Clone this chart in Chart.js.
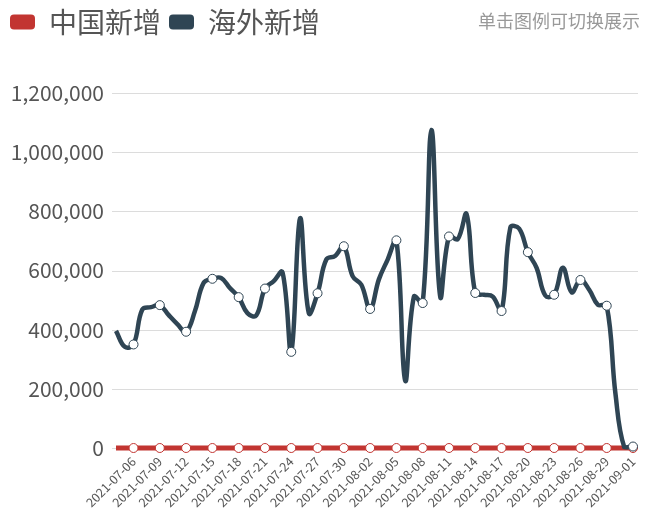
<!DOCTYPE html>
<html>
<head>
<meta charset="utf-8">
<script src="https://cdn.jsdelivr.net/npm/chart.js@4"></script>
<style>
  html, body { margin: 0; padding: 0; background: #fff; }
  #wrap { width: 650px; height: 512px; }
</style>
</head>
<body>
<div id="wrap"><canvas id="chart" width="650" height="512"></canvas></div>
<script>
const dates = [
  "2021-07-04", "2021-07-05", "2021-07-06", "2021-07-07", "2021-07-08", "2021-07-09",
  "2021-07-10", "2021-07-11", "2021-07-12", "2021-07-13", "2021-07-14", "2021-07-15",
  "2021-07-16", "2021-07-17", "2021-07-18", "2021-07-19", "2021-07-20", "2021-07-21",
  "2021-07-22", "2021-07-23", "2021-07-24", "2021-07-25", "2021-07-26", "2021-07-27",
  "2021-07-28", "2021-07-29", "2021-07-30", "2021-07-31", "2021-08-01", "2021-08-02",
  "2021-08-03", "2021-08-04", "2021-08-05", "2021-08-06", "2021-08-07", "2021-08-08",
  "2021-08-09", "2021-08-10", "2021-08-11", "2021-08-12", "2021-08-13", "2021-08-14",
  "2021-08-15", "2021-08-16", "2021-08-17", "2021-08-18", "2021-08-19", "2021-08-20",
  "2021-08-21", "2021-08-22", "2021-08-23", "2021-08-24", "2021-08-25", "2021-08-26",
  "2021-08-27", "2021-08-28", "2021-08-29", "2021-08-30", "2021-08-31", "2021-09-01",
];

// 中国新增 - flat on zero at this scale
const chinaNew = [
  0, 0, 0, 0, 0, 0, 0, 0, 0, 0, 0, 0, 0, 0, 0, 0, 0, 0, 0, 0,
  0, 0, 0, 0, 0, 0, 0, 0, 0, 0, 0, 0, 0, 0, 0, 0, 0, 0, 0, 0,
  0, 0, 0, 0, 0, 0, 0, 0, 0, 0, 0, 0, 0, 0, 0, 0, 0, 0, 0, 0,
];

// 海外新增
const abroadNew = [
  396000, 342000, 350000, 468000, 476000, 483000, 450000, 419000, 393000, 462000,
  558000, 572000, 575000, 541000, 510000, 456000, 448000, 539000, 564000, 594000,
  325000, 776000, 456000, 523000, 637000, 649000, 682000, 581000, 552000, 470000,
  570000, 637000, 702000, 228000, 512000, 490000, 1075000, 512000, 715000, 706000,
  791000, 524000, 518000, 512000, 463000, 745000, 742000, 662000, 609000, 515000,
  518000, 609000, 526000, 568000, 535000, 484000, 481000, 183000, 3000, 5000,
];

const yTicks = [0, 200000, 400000, 600000, 800000, 1000000, 1200000];

const FONT = "'Noto Sans CJK SC', 'Noto Sans', sans-serif";
const shown = (i) => (i - 2) % 3 === 0;
const markerRadius = dates.map((d, i) => (shown(i) ? 4.5 : 0));

const hintText = {
  id: "hintText",
  afterDraw(chart) {
    const ctx = chart.ctx;
    ctx.save();
    ctx.font = "18px " + FONT;
    ctx.fillStyle = "#999";
    ctx.textAlign = "right";
    ctx.textBaseline = "middle";
    ctx.fillText("单击图例可切换展示", 640, 21);
    ctx.restore();
  },
};

// horizontal grid lines a little wider than the plot area
const wideGrid = {
  id: "wideGrid",
  beforeDatasetsDraw(chart) {
    const { ctx, chartArea, scales } = chart;
    ctx.save();
    ctx.strokeStyle = "#dcdcdc";
    ctx.lineWidth = 1;
    yTicks.forEach((v) => {
      const y = Math.round(scales.y.getPixelForValue(v)) + 0.5;
      ctx.beginPath();
      ctx.moveTo(chartArea.left - 4, y);
      ctx.lineTo(chartArea.right + 5, y);
      ctx.stroke();
    });
    ctx.restore();
  },
};

const legendGap = {
  id: "legendGap",
  beforeInit(chart) {
    const fit = chart.legend.fit;
    chart.legend.fit = function () {
      fit.bind(chart.legend)();
      this.height += 47;
    };
  },
};

const ctx = document.getElementById("chart").getContext("2d");
new Chart(ctx, {
  type: "line",
  data: {
    labels: dates,
    datasets: [
      {
        label: "中国新增",
        data: chinaNew,
        borderColor: "#c23531",
        backgroundColor: "#c23531",
        borderWidth: 5,
        tension: 0.4,
        clip: false,
        pointRadius: markerRadius,
        pointBackgroundColor: "#fff",
        pointBorderColor: "#c23531",
        pointBorderWidth: 1,
        order: 2,
      },
      {
        label: "海外新增",
        data: abroadNew,
        borderColor: "#2f4554",
        backgroundColor: "#2f4554",
        borderWidth: 4.5,
        tension: 0.4,
        clip: false,
        pointRadius: markerRadius,
        pointBackgroundColor: "#fff",
        pointBorderColor: "#2f4554",
        pointBorderWidth: 1,
        order: 1,
      },
    ],
  },
  options: {
    responsive: false,
    animation: false,
    layout: { padding: { left: 2, right: 17, top: 0, bottom: 4 } },
    plugins: {
      legend: {
        display: true,
        position: "top",
        align: "start",
        labels: {
          boxWidth: 25,
          boxHeight: 15,
          useBorderRadius: true,
          borderRadius: 4,
          padding: 8,
          color: "#555",
          font: { size: 28, family: FONT },
          sort: (a, b) => a.datasetIndex - b.datasetIndex,
          generateLabels(chart) {
            return chart.data.datasets.map((ds, i) => ({
              text: ds.label,
              fillStyle: ds.backgroundColor,
              strokeStyle: ds.backgroundColor,
              lineWidth: 0,
              fontColor: "#555",
              borderRadius: 4,
              hidden: !chart.isDatasetVisible(i),
              datasetIndex: i,
            }));
          },
        },
      },
      tooltip: { enabled: false },
    },
    scales: {
      x: {
        offset: false,
        grid: { display: false, drawTicks: false },
        border: { display: false },
        ticks: {
          autoSkip: false,
          minRotation: 45,
          maxRotation: 45,
          padding: 6,
          color: "#555",
          font: { size: 12.5, family: FONT },
          callback: function (value, index) {
            return shown(index) ? dates[index] : "";
          },
        },
        afterFit(scale) {
          scale.height = 60;
        },
      },
      y: {
        min: 0,
        max: 1200000,
        afterBuildTicks(scale) {
          scale.ticks = yTicks.map((v) => ({ value: v }));
        },
        grid: { display: false, drawTicks: false },
        border: { display: false },
        ticks: {
          padding: 12,
          color: "#555",
          font: { size: 21, family: FONT },
          callback: (v) => v.toLocaleString("en-US"),
        },
        afterFit(scale) {
          scale.width = 114;
        },
      },
    },
  },
  plugins: [hintText, wideGrid, legendGap],
});
</script>
</body>
</html>
